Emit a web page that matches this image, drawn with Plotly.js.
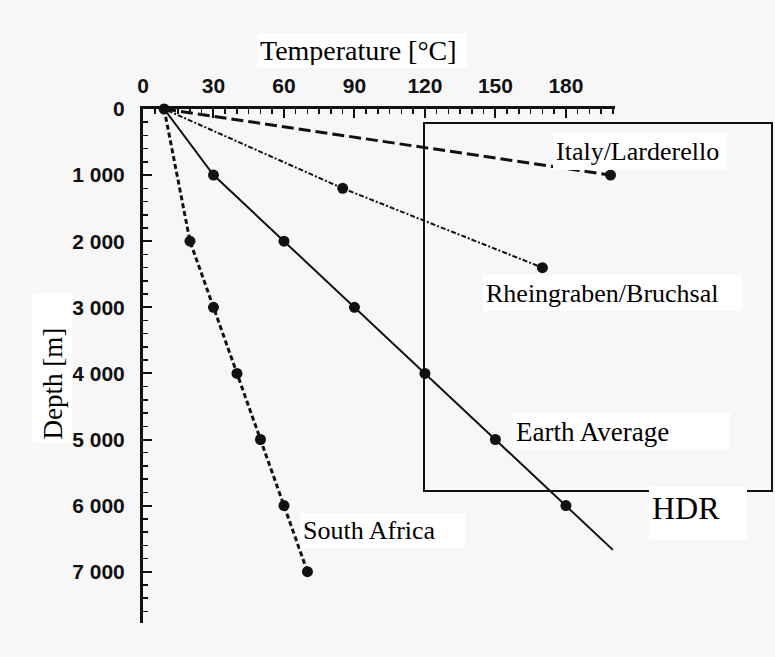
<!DOCTYPE html>
<html>
<head>
<meta charset="utf-8">
<script src="https://cdn.plot.ly/plotly-3.0.1.min.js"></script>
<style>html,body{margin:0;padding:0;background:#f7f7f7;}#chart{width:775px;height:657px;}</style>
</head>
<body>
<div id="chart"></div>
<script>
// ---- data (temperature in °C, depth in m) ----
const surfaceT = [9];
const surfaceD = [0];

const italyT = [9, 199];
const italyD = [0, 1000];

const rheinT = [9, 85, 170];
const rheinD = [0, 1200, 2400];

const earthT = [9, 30, 60, 90, 120, 150, 180, 200];
const earthD = [0, 1000, 2000, 3000, 4000, 5000, 6000, 6670];

const safricaT = [9, 20, 30, 40, 50, 60, 70];
const safricaD = [0, 2000, 3000, 4000, 5000, 6000, 7000];

const xTickVals = [0, 30, 60, 90, 120, 150, 180];
const yTickVals = [0, 1000, 2000, 3000, 4000, 5000, 6000, 7000];
const yTickText = ['0', '1 000', '2 000', '3 000', '4 000', '5 000', '6 000', '7 000'];

// ---- layout geometry ----
const W = 775, H = 657;
const L = 143, R = 615, T = 109, B = 623;
const px = x => (x - L) / (R - L);
const py = y => (B - y) / (B - T);

const ink = '#111111';
const serif = 'Liberation Serif, Times New Roman, serif';

function lineTrace(x, y, dash, width) {
  return {x: x, y: y, type: 'scatter', mode: 'lines', cliponaxis: false,
          line: {color: ink, width: width, dash: dash}, hoverinfo: 'skip'};
}
function markTrace(x, y) {
  return {x: x, y: y, type: 'scatter', mode: 'markers', cliponaxis: false,
          marker: {color: ink, size: 11}, hoverinfo: 'skip'};
}

const traces = [
  lineTrace(italyT, italyD, '12px,5px', 3),
  lineTrace(rheinT, rheinD, '2px,2px,5px,2px', 2),
  lineTrace(earthT, earthD, 'solid', 2),
  lineTrace(safricaT, safricaD, '5px,3px', 3),
  markTrace(italyT.slice(1), italyD.slice(1)),
  markTrace(rheinT.slice(1), rheinD.slice(1)),
  markTrace(earthT.slice(1, -1), earthD.slice(1, -1)),
  markTrace(safricaT.slice(1), safricaD.slice(1)),
  markTrace(surfaceT, surfaceD)
];

const PAD = 3;
function label(text, left, top, w, h, size, opts) {
  opts = opts || {};
  return Object.assign({
    text: text, xref: 'paper', yref: 'paper',
    x: px(left + w / 2), y: py(top + h / 2), xanchor: 'center', yanchor: 'middle',
    width: w - 2 * PAD, height: h - 2 * PAD, align: 'left', valign: 'middle',
    showarrow: false, bgcolor: '#ffffff', borderwidth: 0, borderpad: PAD,
    font: {family: serif, size: size, color: '#000000'}
  }, opts);
}

const tickFont = {family: 'Liberation Sans, Arial, sans-serif', size: 21, weight: 'bold', color: ink};

const layout = {
  width: W, height: H,
  margin: {l: L, r: W - R, t: T, b: H - B, pad: 0},
  paper_bgcolor: '#f7f7f7', plot_bgcolor: '#f7f7f7',
  showlegend: false,
  xaxis: {
    side: 'top', range: [0, 200.9], tickvals: xTickVals,
    ticks: 'inside', ticklen: 9, tickwidth: 2, tickcolor: ink,
    showline: true, linewidth: 3, linecolor: ink, mirror: false,
    showgrid: false, zeroline: false, tickfont: tickFont, ticklabelstandoff: 5,
    minor: {dtick: 5, ticks: 'inside', ticklen: 5, tickwidth: 1.5, tickcolor: ink, showgrid: false}
  },
  yaxis: {
    range: [7776, 0], tickvals: yTickVals, ticktext: yTickText,
    ticks: 'inside', ticklen: 9, tickwidth: 2, tickcolor: ink,
    showline: true, linewidth: 3, linecolor: ink, mirror: false,
    showgrid: false, zeroline: false, tickfont: tickFont, ticklabelstandoff: 11,
    minor: {dtick: 200, ticks: 'inside', ticklen: 5, tickwidth: 1.5, tickcolor: ink, showgrid: false}
  },
  shapes: [{
    type: 'rect', xref: 'paper', yref: 'paper',
    x0: px(424), x1: px(772), y0: py(491), y1: py(123),
    line: {color: ink, width: 2}, fillcolor: 'rgba(0,0,0,0)', layer: 'below'
  }],
  annotations: [
    label('Temperature [°C]', 257, 33, 210, 35, 28),
    label('Depth [m]', 32, 294, 40, 149, 27, {width: 149 - 2 * PAD, height: 40 - 2 * PAD, textangle: -90}),
    label('Italy/Larderello', 553, 133, 174, 37, 26),
    label('Rheingraben/Bruchsal', 483, 275, 259, 36, 26),
    label('Earth Average', 513, 413, 217, 37, 27),
    label('HDR', 649, 487, 98, 53, 32, {valign: 'top'}),
    label('South Africa', 300, 513, 165, 35, 26)
  ]
};

Plotly.newPlot('chart', traces, layout, {staticPlot: true, displayModeBar: false});
</script>
</body>
</html>
